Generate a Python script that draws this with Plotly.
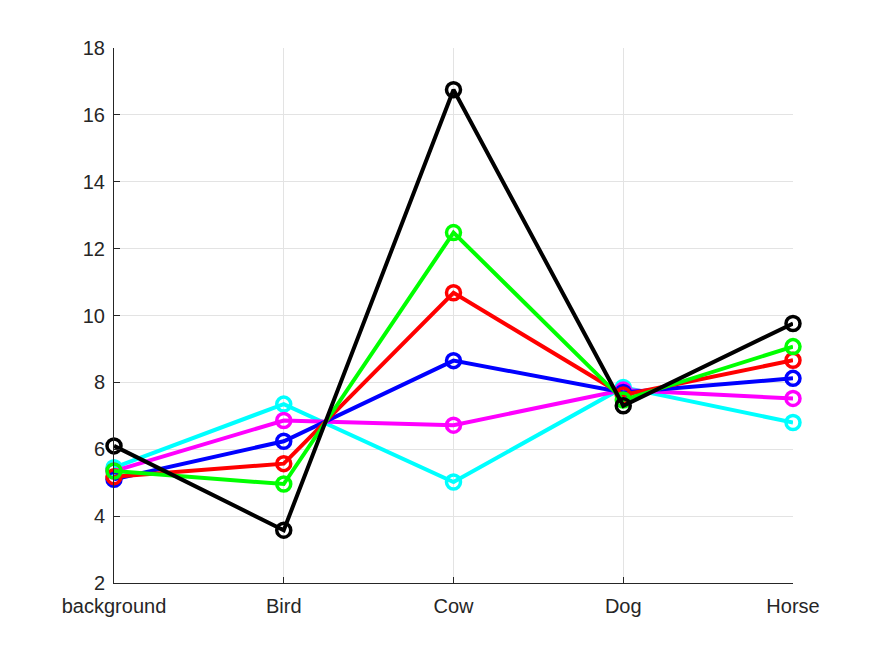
import plotly.graph_objects as go

categories = ["background", "Bird", "Cow", "Dog", "Horse"]
cyan_vals = [5.45, 7.35, 5.02, 7.85, 6.80]
magenta_vals = [5.35, 6.86, 6.72, 7.77, 7.52]
blue_vals = [5.10, 6.24, 8.65, 7.70, 8.12]
red_vals = [5.18, 5.57, 10.68, 7.62, 8.66]
green_vals = [5.35, 4.96, 12.48, 7.47, 9.07]
black_vals = [6.10, 3.58, 16.75, 7.30, 9.76]
yticks = [2, 4, 6, 8, 10, 12, 14, 16, 18]

series = [
    (cyan_vals, "#00ffff"),
    (magenta_vals, "#ff00ff"),
    (blue_vals, "#0000ff"),
    (red_vals, "#ff0000"),
    (green_vals, "#00ff00"),
    (black_vals, "#000000"),
]

xs = list(range(len(categories)))
fig = go.Figure()
for vals, col in series:
    fig.add_trace(go.Scatter(
        x=xs, y=vals, mode="lines+markers",
        line=dict(color=col, width=4),
        marker=dict(symbol="circle-open", size=14, color=col, line=dict(width=3.5, color=col)),
        cliponaxis=False, showlegend=False,
    ))

axis_font = dict(family="Liberation Sans, Arial, sans-serif", size=20, color="#262626")
fig.update_layout(
    width=875, height=657,
    margin=dict(l=114, r=82, t=48, b=74),
    paper_bgcolor="white", plot_bgcolor="white",
    font=axis_font,
    xaxis=dict(
        range=[0, 4], tickvals=xs, ticktext=categories,
        showgrid=True, gridcolor="#e3e3e3", gridwidth=1,
        showline=True, linecolor="#262626", linewidth=1,
        ticks="inside", ticklen=6, tickcolor="#262626",
        zeroline=False, tickfont=axis_font, ticklabelstandoff=5,
    ),
    yaxis=dict(
        range=[2, 18], tickvals=yticks,
        showgrid=True, gridcolor="#e3e3e3", gridwidth=1,
        showline=True, linecolor="#262626", linewidth=1,
        ticks="inside", ticklen=6, tickcolor="#262626",
        zeroline=False, tickfont=axis_font, ticklabelstandoff=4,
    ),
)
fig.write_html("out.html")
